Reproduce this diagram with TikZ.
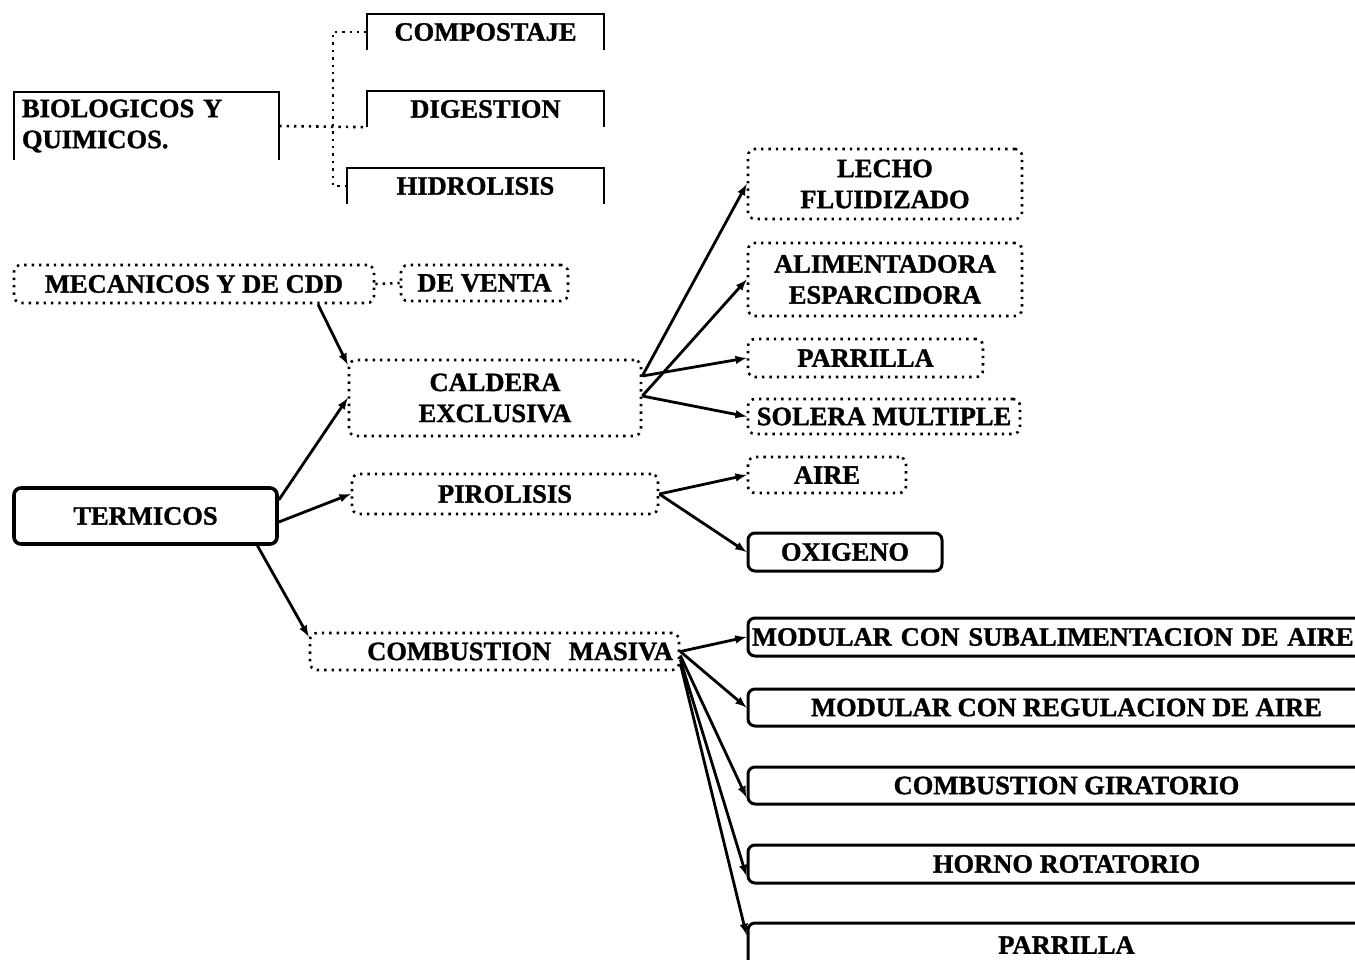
\documentclass[tikz,border=0pt]{standalone}
\usepackage{fontspec}
\setmainfont{Liberation Serif}[BoldFeatures={FakeBold=1.2}]
\usepackage{tikz}
\usetikzlibrary{arrows}

\tikzset{
 box/.style={font=\fontsize{26.5}{31}\selectfont\bfseries, align=center, inner sep=0pt},
 dotbox/.style={box, draw, rounded corners=7pt, line width=2.6pt, dash pattern=on 2.4pt off 5pt},
 solidbox/.style={box, draw, rounded corners=7pt, line width=3pt},
 openframe/.style={line width=2.4pt},
 link/.style={-latex, line width=2.8pt},
 dotlink/.style={line width=2.6pt, dash pattern=on 2.4pt off 5pt}
}

\begin{document}
\begin{tikzpicture}[x=1pt, y=-1pt]
 \useasboundingbox (0,0) rectangle (1355,959);
 \clip (0,0) rectangle (1355,959);
 \node[box, minimum width=265pt, minimum height=68pt, text width=249pt, align=left] (bio) at (146.5,126) {BIOLOGICOS Y\\QUIMICOS.};
 \node[box, minimum width=237pt, minimum height=36pt] (comp) at (485.5,32) {COMPOSTAJE};
 \node[box, minimum width=237pt, minimum height=36pt] (dig) at (485.5,109) {DIGESTION};
 \node[box, minimum width=257pt, minimum height=36pt] (hid) at (475.5,186) {HIDROLISIS};
 \foreach \n in {bio,comp,dig,hid}
  \draw[openframe] (\n.south west) |- (\n.north east) -- (\n.south east);
 \draw[dotlink] (bio.east) -- (dig.south west);
 \draw[dotlink] (comp.west) -- ++(-34,0) |- (hid.west);

 \node[dotbox, minimum width=360pt, minimum height=38pt] (mec) at (194,284) {MECANICOS Y DE CDD};
 \node[dotbox, minimum width=167pt, minimum height=36pt] (venta) at (484.5,283) {DE VENTA};
 \draw[dotlink] (mec.east) -- (venta.west);
 \node[dotbox, minimum width=292pt, minimum height=76pt] (cal) at (495,398) {CALDERA\\EXCLUSIVA};
 \node[dotbox, minimum width=306pt, minimum height=40pt] (pir) at (505,494) {PIROLISIS};
 \node[solidbox, line width=3.6pt, minimum width=263pt, minimum height=56pt] (term) at (145.5,516) {TERMICOS};
 \node[dotbox, minimum width=369pt, minimum height=37pt, text width=357pt, align=right] (cm) at (494.5,651.5) {COMBUSTION\ \ MASIVA};

 \node[dotbox, minimum width=274pt, minimum height=70pt] (lecho) at (885,184) {LECHO\\FLUIDIZADO};
 \node[dotbox, minimum width=274pt, minimum height=73pt] (alim) at (885,279.5) {ALIMENTADORA\\ESPARCIDORA};
 \node[dotbox, minimum width=235pt, minimum height=38pt] (parr) at (865.5,358) {PARRILLA};
 \node[dotbox, minimum width=272pt, minimum height=35pt] (sol) at (884,416.5) {SOLERA MULTIPLE};
 \node[dotbox, minimum width=158pt, minimum height=36pt] (aire) at (827,475) {AIRE};
 \node[solidbox, minimum width=194pt, minimum height=38pt] (oxi) at (845,552) {OXIGENO};

 \node[solidbox, minimum width=637pt, minimum height=38pt, text width=629pt, align=left] (subal) at (1066.5,637) {MODULAR CON SUBALIMENTACION DE AIRE};
 \node[solidbox, minimum width=637pt, minimum height=37pt] (regul) at (1066.5,707.5) {MODULAR CON REGULACION DE AIRE};
 \node[solidbox, minimum width=637pt, minimum height=37pt] (girat) at (1066.5,785.5) {COMBUSTION GIRATORIO};
 \node[solidbox, minimum width=637pt, minimum height=38pt] (horno) at (1066.5,864) {HORNO ROTATORIO};
 \node[solidbox, minimum width=637pt, minimum height=44pt] (parrb) at (1066.5,945) {PARRILLA};

 \draw[link] ([xshift=124pt]mec.south) -- ([yshift=-6pt]cal.north west);
 \draw[link] ([yshift=16pt]term.east) -- (cal.west);
 \draw[link] ([yshift=-6pt]term.east) -- (pir.west);
 \draw[link] ([xshift=112pt]term.south) -- ([yshift=-5pt]cm.north west);
 \draw[link] ([yshift=22pt]cal.east) -- (lecho.west);
 \draw[link] ([yshift=2pt]cal.east) -- (alim.west);
 \draw[link] ([yshift=22pt]cal.east) -- (parr.west);
 \draw[link] ([yshift=2pt]cal.east) -- (sol.west);
 \draw[link] (pir.east) -- (aire.west);
 \draw[link] (pir.east) -- (oxi.west);
 \draw[link] (cm.east) -- (subal.west);
 \draw[link] (cm.east) -- (regul.west);
 \draw[link] ([yshift=-4pt]cm.east) -- ([yshift=-12pt]girat.west);
 \draw[link] ([yshift=-8pt]cm.east) -- ([yshift=-12pt]horno.west);
 \draw[link] ([yshift=-12pt]cm.east) -- ([yshift=10pt]parrb.west);
\end{tikzpicture}
\end{document}
